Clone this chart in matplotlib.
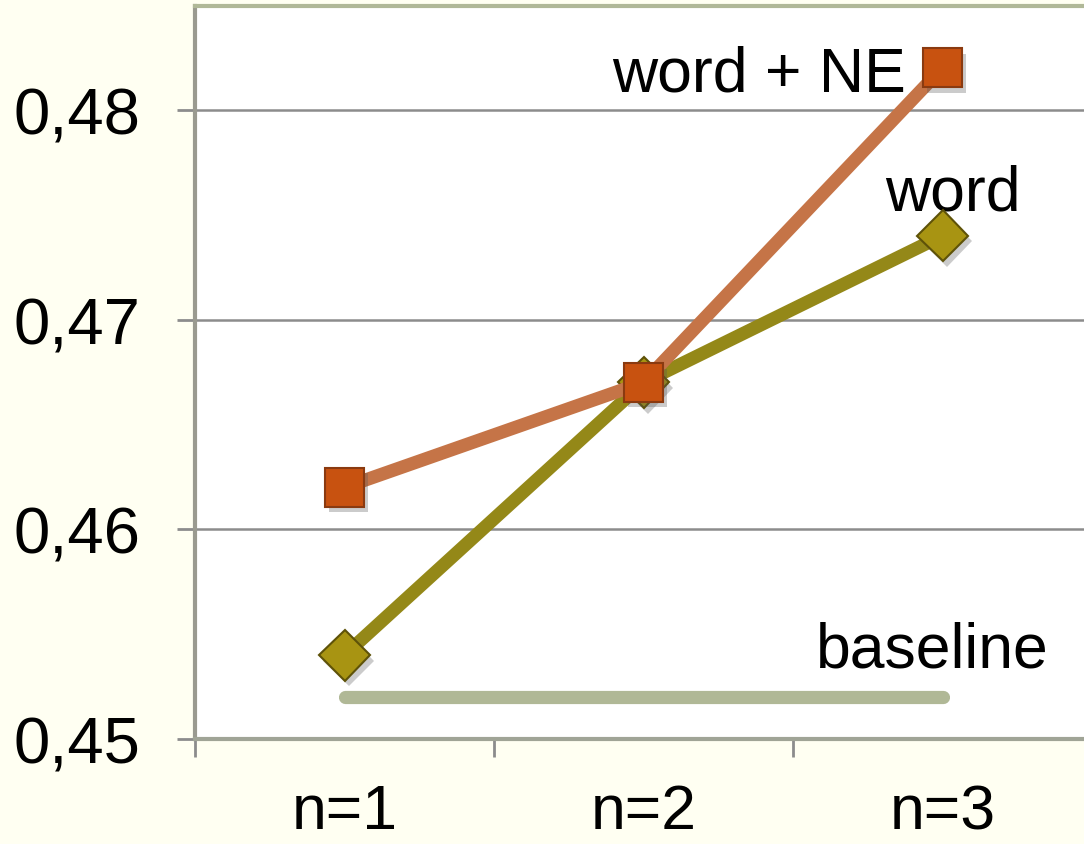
import matplotlib.pyplot as plt
import matplotlib.patheffects as pe

plt.rcParams['font.family'] = ['Liberation Sans', 'DejaVu Sans']

# data
categories = ['n=1', 'n=2', 'n=3']
word_ne = [0.462, 0.467, 0.482]
word = [0.454, 0.467, 0.474]
baseline = 0.452
y_ticks = [0.45, 0.46, 0.47, 0.48]
y_labels = ['0,45', '0,46', '0,47', '0,48']

bg = '#FFFFF2'
fig = plt.figure(figsize=(10.84, 8.45), dpi=100, facecolor=bg)
# plot area runs past the right edge of the picture, as in the original
ax = fig.add_axes([195 / 1084, 105 / 845, 897 / 1084, 733 / 845])
ax.set_facecolor('white')

x = list(range(len(categories)))
shadow = [pe.SimplePatchShadow(offset=(3, -4), shadow_rgbFace='#555555', alpha=0.3), pe.Normal()]

ax.plot([x[0], x[-1]], [baseline, baseline], color='#B0B896', lw=9.5,
        solid_capstyle='round', zorder=2)
ax.plot(x, word, color='#948818', lw=9.5, zorder=3)
ax.plot(x, word, ls='none', marker='D', ms=26, mfc='#A89412', mec='#5E5208',
        mew=1.5, zorder=4, path_effects=shadow)
ax.plot(x, word_ne, color='#C57447', lw=9.5, zorder=5)
ax.plot(x, word_ne, ls='none', marker='s', ms=28, mfc='#C85210', mec='#8A3A10',
        mew=1.5, zorder=6, path_effects=shadow)

ax.annotate('word + NE', (x[-1], word_ne[-1]), xytext=(-37, -6),
            textcoords='offset pixels', ha='right', va='center', fontsize=45)
ax.annotate('word', (x[-1], word[-1]), xytext=(10, 43),
            textcoords='offset pixels', ha='center', va='center', fontsize=45)
ax.annotate('baseline', (x[-1], baseline), xytext=(-10, 47),
            textcoords='offset pixels', ha='center', va='center', fontsize=45)

ax.set_xlim(-0.5, 2.5)
ax.set_ylim(0.45, 0.48495)
ax.set_xticks([-0.5, 0.5, 1.5, 2.5])
ax.set_xticklabels([])
ax.set_xticks(x, minor=True)
ax.set_xticklabels(categories, minor=True)
ax.set_yticks(y_ticks)
ax.set_yticklabels(y_labels)

ax.tick_params(axis='x', which='major', length=13, width=2, color='#8C8C8C', direction='out')
ax.tick_params(axis='x', which='minor', length=0, pad=31, labelsize=45)
ax.tick_params(axis='y', length=13, width=2, color='#8C8C8C', pad=26, labelsize=47)

ax.grid(axis='y', color='#8C8C8C', lw=1.8, zorder=1)
ax.set_axisbelow(True)

ax.spines['left'].set_color('#9A9A90')
ax.spines['left'].set_linewidth(3)
ax.spines['bottom'].set_color('#A0A496')
ax.spines['bottom'].set_linewidth(3)
ax.spines['top'].set_color('#B0B898')
ax.spines['top'].set_linewidth(3)
ax.spines['right'].set_visible(False)

fig.savefig('out.png', dpi=100, facecolor=bg)
